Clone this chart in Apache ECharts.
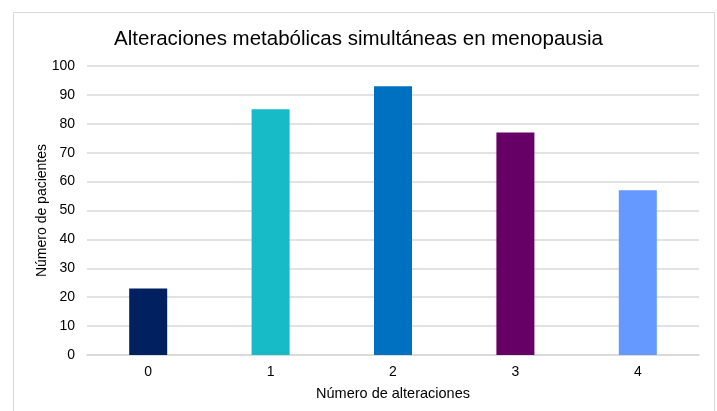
<!DOCTYPE html>
<html>
<head>
<meta charset="utf-8">
<script src="https://cdn.jsdelivr.net/npm/echarts@6/dist/echarts.min.js"></script>
<style>
  html, body { margin: 0; padding: 0; background: #ffffff; }
  #chart { width: 717px; height: 411px; }
</style>
</head>
<body>
<div id="chart"></div>
<script>
// Number of simultaneous metabolic alterations per patient
const categories = ['0', '1', '2', '3', '4'];
const patients = [23, 85, 93, 77, 57];
const barColors = ['#002060', '#17BBC8', '#0070C0', '#660066', '#6699FF'];
const yTicks = [0, 10, 20, 30, 40, 50, 60, 70, 80, 90, 100];

const font = 'Liberation Sans, Arial, sans-serif';

const chart = echarts.init(document.getElementById('chart'), null, { renderer: 'canvas' });

chart.setOption({
  animation: false,
  backgroundColor: '#ffffff',
  title: {
    text: 'Alteraciones metabólicas simultáneas en menopausia',
    left: 'center',
    top: 24,
    textStyle: { fontFamily: font, fontSize: 20.5, fontWeight: 'normal', color: '#000000' }
  },
  graphic: [{
    type: 'rect',
    silent: true,
    shape: { x: 13.5, y: 12.5, width: 701, height: 420 },
    style: { fill: 'none', stroke: '#d9d9d9', lineWidth: 1 }
  }],
  grid: { left: 87, right: 18, top: 66, bottom: 56, containLabel: false },
  xAxis: {
    type: 'category',
    data: categories,
    name: 'Número de alteraciones',
    nameLocation: 'middle',
    nameGap: 31,
    nameMoveOverlap: false,
    nameTextStyle: { fontFamily: font, fontSize: 14.5, color: '#000000' },
    axisLine: { show: true, lineStyle: { color: '#d9d9d9', width: 1.5 } },
    axisTick: { show: false },
    axisLabel: { fontFamily: font, fontSize: 14, color: '#000000', margin: 10 }
  },
  yAxis: {
    type: 'value',
    min: yTicks[0],
    max: yTicks[yTicks.length - 1],
    interval: 10,
    name: 'Número de pacientes',
    nameLocation: 'middle',
    nameRotate: 90,
    nameGap: 38,
    nameMoveOverlap: false,
    nameTextStyle: { fontFamily: font, fontSize: 14, color: '#000000' },
    axisLine: { show: false },
    axisTick: { show: false },
    axisLabel: { fontFamily: font, fontSize: 14, color: '#000000', margin: 12 },
    splitLine: { show: true, lineStyle: { color: '#d9d9d9', width: 1.5 } }
  },
  series: [{
    type: 'bar',
    barWidth: 38,
    data: patients.map((v, i) => ({ value: v, itemStyle: { color: barColors[i] } }))
  }]
});
</script>
</body>
</html>
